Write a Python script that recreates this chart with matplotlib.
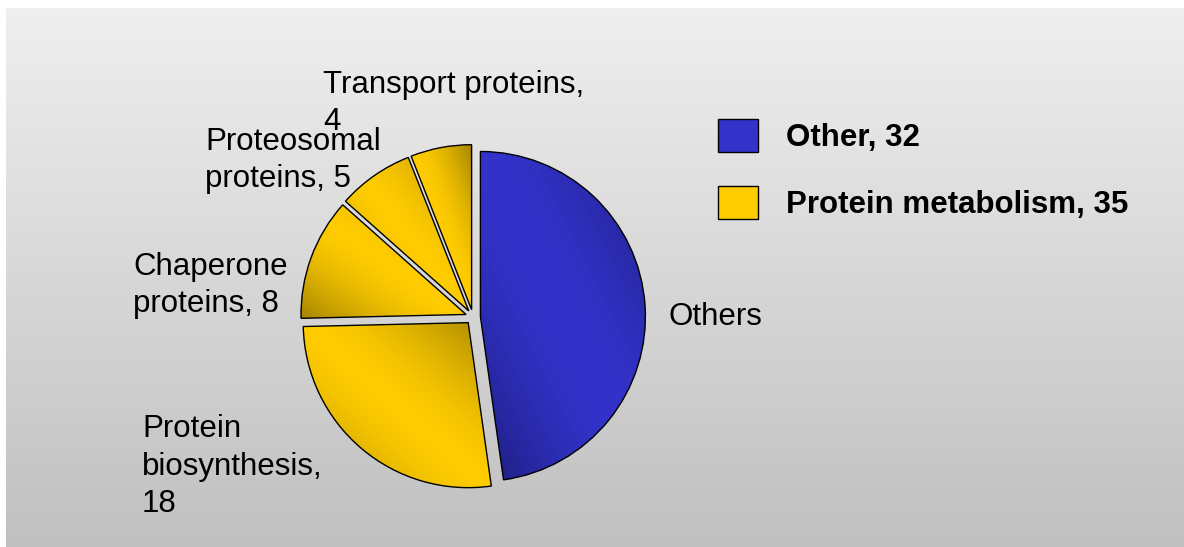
import numpy as np
import matplotlib.pyplot as plt
from matplotlib.colors import to_rgb, LinearSegmentedColormap
from matplotlib.patches import Patch

plt.rcParams["font.family"] = ["Liberation Sans", "DejaVu Sans"]

# slices, clockwise from 12 o'clock
names = ["Others", "Protein\nbiosynthesis,", "Chaperone\nproteins,",
         "Proteosomal\nproteins,", "Transport proteins,"]
values = [32, 18, 8, 5, 4]
show_value = [False, True, True, True, True]
value_sep = ["", "\n", " ", " ", "\n"]
groups = ["Other", "Protein metabolism", "Protein metabolism",
          "Protein metabolism", "Protein metabolism"]
legend_names = ["Other", "Protein metabolism"]

colors = {"Other": ("#3333cc", "#1c1c78"),
          "Protein metabolism": ("#ffcc00", "#a38400")}

W, H = 1184, 547
fig = plt.figure(figsize=(W / 100, H / 100), dpi=100)
fig.patch.set_facecolor("white")

# grey gradient backdrop
bg = fig.add_axes([6 / W, 0, 1 - 6 / W, 1 - 8 / H])
bg.imshow(np.linspace(0, 1, 256).reshape(-1, 1), aspect="auto",
          cmap=LinearSegmentedColormap.from_list("bg", ["#efefef", "#c0c0c0"]),
          extent=(0, 1, 0, 1), origin="upper")
bg.axis("off")

# pie axes, centre (473, 317) px, radius 165 px
cx, cy, R = 473, 317, 165
side = 2.6 * R
ax = fig.add_axes([(cx - side / 2) / W, (H - cy - side / 2) / H, side / W, side / H])

wedges, _ = ax.pie(values, startangle=90, counterclock=False,
                   explode=[0.045] * len(values), radius=1,
                   colors=[colors[g][0] for g in groups],
                   wedgeprops=dict(edgecolor="black", linewidth=1.0))

# mirrored diagonal gradient inside every slice
for w, g in zip(wedges, groups):
    light, dark = np.array(to_rgb(colors[g][0])), np.array(to_rgb(colors[g][1]))
    verts = w.get_path().vertices
    x0, y0 = verts.min(axis=0)
    x1, y1 = verts.max(axis=0)
    u = np.linspace(0, 1, 200)
    t = (u[None, :] + u[:, None]) / 2
    k = np.abs(2 * t - 1) ** 1.6
    img = light * (1 - k[..., None]) + dark * k[..., None]
    im = ax.imshow(img, extent=(x0, x1, y0, y1), origin="lower",
                   zorder=1.5, interpolation="bilinear")
    im.set_clip_path(w)
    w.set_zorder(2)
    w.set_facecolor("none")

ax.set_xlim(-1.3, 1.3)
ax.set_ylim(-1.3, 1.3)
ax.set_aspect("equal")
ax.axis("off")

# slice labels: left edge and last-line baseline, in px
label_pos = [(668, 325), (142, 512), (133, 312), (205, 187), (323, 130)]
for name, v, sv, sep, (px, py) in zip(names, values, show_value, value_sep, label_pos):
    txt = f"{name}{sep}{v}" if sv else name
    fig.text(px / W, 1 - py / H, txt, ha="left", va="baseline",
             fontsize=22.5, linespacing=1.32, color="black")

# legend
totals = [sum(v for v, g in zip(values, groups) if g == n) for n in legend_names]
handles = [Patch(facecolor=colors[n][0], edgecolor="black", linewidth=1.0)
           for n in legend_names]
fig.legend(handles, [f"{n}, {t}" for n, t in zip(legend_names, totals)],
           loc="upper left", bbox_to_anchor=(718 / W, 1 - 119 / H),
           frameon=False, borderpad=0, borderaxespad=0,
           handlelength=1.27, handleheight=1.25, handletextpad=0.89,
           labelspacing=1.05, prop=dict(size=22.5, weight="bold"))

fig.savefig("out.png", dpi=100)
